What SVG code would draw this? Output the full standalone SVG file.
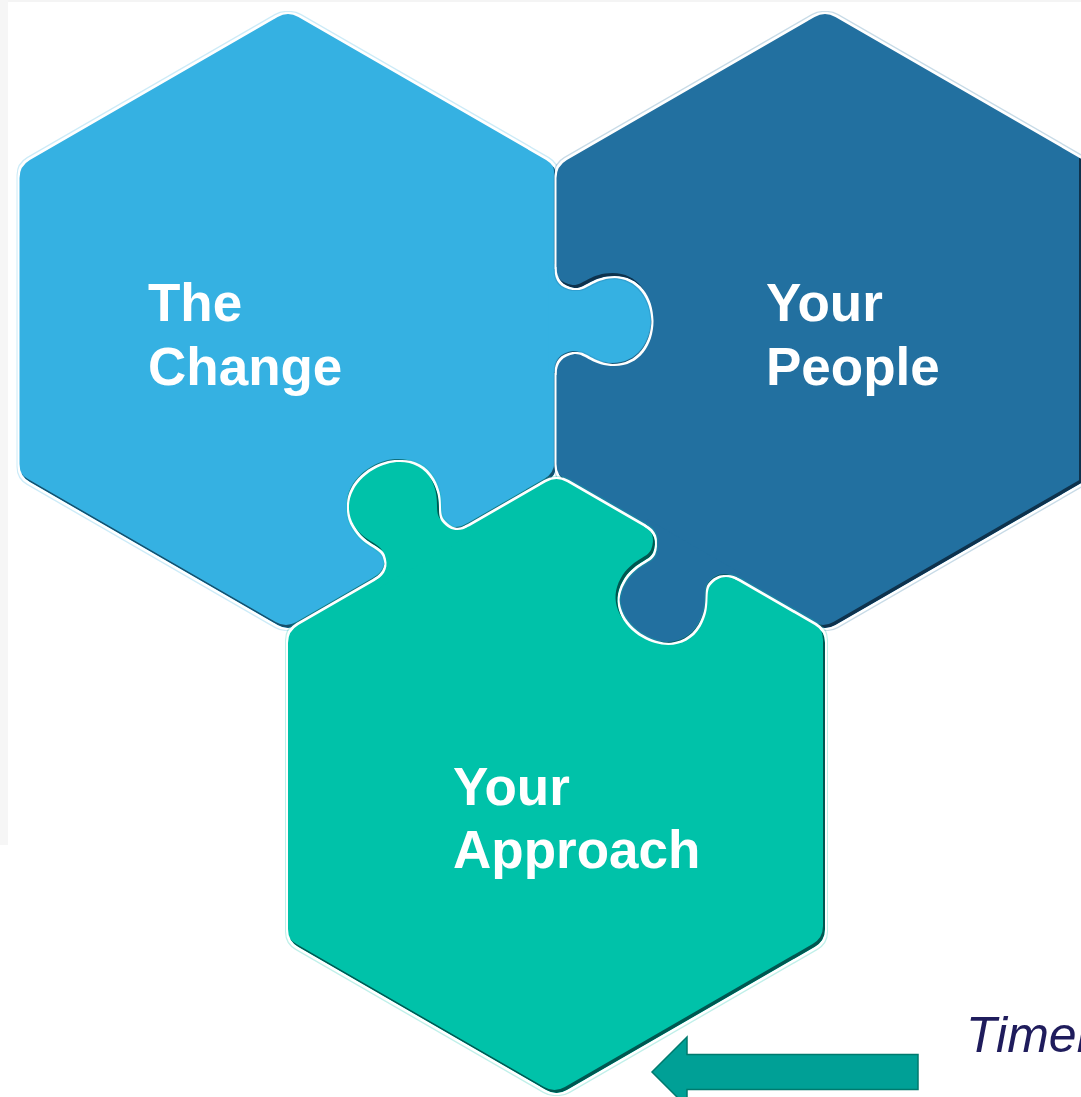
<svg xmlns="http://www.w3.org/2000/svg" xmlns:xlink="http://www.w3.org/1999/xlink" width="1081" height="1097" viewBox="0 0 1081 1097">
  <style>
    .label { font-family: "Liberation Sans", Arial, sans-serif; font-weight: bold; font-size: 53px; fill: #ffffff; }
    .time { font-family: "Liberation Sans", Arial, sans-serif; font-style: italic; font-size: 50px; fill: #1f1c5c; }
    .arrow { fill: #00a096; stroke: #007a6e; stroke-width: 1.5; }
  </style>
  <defs>
    <!-- hexagon with softened corners, centred on 0,0 -->
    <path id="hex" d="M10.39,-304 L258.11,-161 Q268.5,-155 268.5,-143 L268.5,143 Q268.5,155 258.11,161 L10.39,304 Q0,310 -10.39,304 L-258.11,161 Q-268.5,155 -268.5,143 L-268.5,-143 Q-268.5,-155 -258.11,-161 L-10.39,-304 Q0,-310 10.39,-304 Z"/>
    <!-- puzzle tab: x runs outward from the edge, y along the edge -->
    <path id="tab" d="M-8,-54 L0,-54 C0,-42 6,-35 18,-33 C28,-32 36,-45 58,-45 C83,-45 97,-24 97,0 C97,24 83,45 58,45 C36,45 28,32 18,33 C6,35 0,42 0,54 L-8,54 Z"/>

    <!-- sockets: each piece loses the area taken by its neighbour's tab -->
    <mask id="m1" maskUnits="userSpaceOnUse" x="0" y="0" width="1081" height="1097">
      <rect x="0" y="0" width="1081" height="1097" fill="#fff"/>
      <use xlink:href="#tab" href="#tab" fill="#000" transform="translate(422.25,553.5) rotate(-120)"/>
    </mask>
    <mask id="m2" maskUnits="userSpaceOnUse" x="0" y="0" width="1081" height="1097">
      <rect x="0" y="0" width="1081" height="1097" fill="#fff"/>
      <use xlink:href="#tab" href="#tab" fill="#000" transform="translate(556.5,321)"/>
    </mask>
    <mask id="m3" maskUnits="userSpaceOnUse" x="0" y="0" width="1081" height="1097">
      <rect x="0" y="0" width="1081" height="1097" fill="#fff"/>
      <use xlink:href="#tab" href="#tab" fill="#000" transform="translate(690.75,553.5) rotate(120)"/>
    </mask>

    <!-- bevel: white rim outside, darker band inside along lower-right edges -->
    <filter id="bevel" x="-5%" y="-5%" width="110%" height="110%" color-interpolation-filters="sRGB">
      <feOffset in="SourceAlpha" dx="-2" dy="-3.5" result="up"/>
      <feComposite in="SourceAlpha" in2="up" operator="out" result="band"/>
      <feColorMatrix in="SourceGraphic" type="matrix" values="0.4 0 0 0 0  0 0.45 0 0 0  0 0 0.48 0 0  0 0 0 1 0" result="darkc"/>
      <feComposite in="darkc" in2="band" operator="in" result="inner"/>
      <feMorphology in="SourceAlpha" operator="dilate" radius="1.6" result="rim"/>
      <feFlood flood-color="#ffffff"/>
      <feComposite in2="rim" operator="in" result="white"/>
      <feMorphology in="SourceGraphic" operator="dilate" radius="2.6" result="halo0"/>
      <feColorMatrix in="halo0" type="matrix" values="1 0 0 0 0  0 1 0 0 0  0 0 1 0 0  0 0 0 0.25 0" result="halo"/>
      <feMerge>
        <feMergeNode in="halo"/>
        <feMergeNode in="white"/>
        <feMergeNode in="SourceGraphic"/>
        <feMergeNode in="inner"/>
      </feMerge>
    </filter>
  </defs>

  <!-- page background with faint margin strips -->
  <rect x="0" y="0" width="1081" height="1097" fill="#ffffff"/>
  <rect x="0" y="0" width="1081" height="2" fill="#f4f4f4"/>
  <rect x="0" y="0" width="8" height="845" fill="#f6f6f6"/>

  <g id="node-the-change">
    <g filter="url(#bevel)">
      <g mask="url(#m1)" fill="#35b1e2">
        <use xlink:href="#hex" href="#hex" x="288" y="321"/>
        <use xlink:href="#tab" href="#tab" transform="translate(556.5,321)"/>
      </g>
    </g>
    <text class="label" x="148" y="321">The</text>
    <text class="label" x="148" y="385">Change</text>
  </g>

  <g id="node-your-people">
    <g filter="url(#bevel)">
      <g mask="url(#m2)" fill="#2270a0">
        <use xlink:href="#hex" href="#hex" x="825" y="321"/>
        <use xlink:href="#tab" href="#tab" transform="translate(690.75,553.5) rotate(120)"/>
      </g>
    </g>
    <text class="label" x="766" y="321">Your</text>
    <text class="label" x="766" y="385">People</text>
  </g>

  <g id="node-your-approach">
    <g filter="url(#bevel)">
      <g mask="url(#m3)" fill="#00c2a9">
        <use xlink:href="#hex" href="#hex" x="556.5" y="786"/>
        <use xlink:href="#tab" href="#tab" transform="translate(422.25,553.5) rotate(-120)"/>
      </g>
    </g>
    <text class="label" x="453" y="805">Your</text>
    <text class="label" x="453" y="868">Approach</text>
  </g>

  <g id="connectors">
    <polygon class="arrow" points="918,1054.5 687,1054.5 687,1037 652,1072 687,1107 687,1089.5 918,1089.5"/>
  </g>

  <g id="node-timeline">
    <text class="time" x="966" y="1052">Timeline</text>
  </g>
</svg>
